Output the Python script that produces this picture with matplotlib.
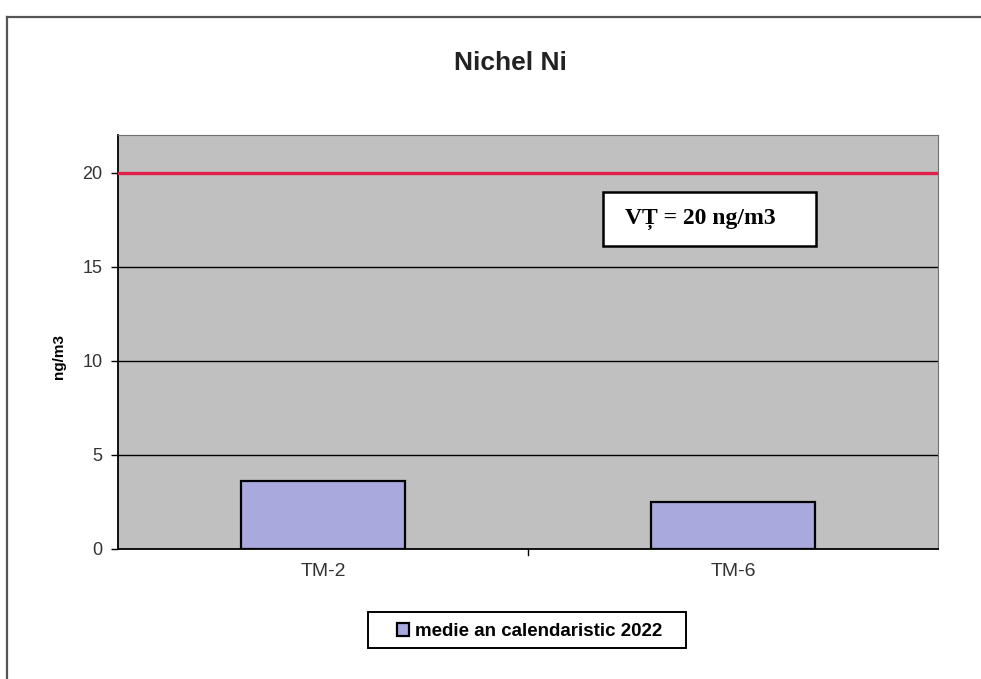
import matplotlib.pyplot as plt
from matplotlib.lines import Line2D
from matplotlib.patches import Rectangle

# data
stations = ['TM-2', 'TM-6']
annual_mean = [3.6, 2.5]
limit_value = 20
series_label = 'medie an calendaristic 2022'
y_ticks = [0, 5, 10, 15, 20]

fig = plt.figure(figsize=(9.81, 6.79), dpi=100)
ax = fig.add_axes([0.1203, 0.1915, 0.8359, 0.6097])
ax.set_facecolor('#c0c0c0')

# horizontal gridlines
for t in y_ticks[1:]:
    ax.axhline(t, color='black', lw=1.0, zorder=1)

x = range(len(stations))
ax.bar(x, annual_mean, width=0.4, color='#a9a9dd', edgecolor='black',
       linewidth=1.6, zorder=3, label=series_label)

# limit value line
ax.axhline(limit_value, color='#e0204a', lw=2.4, zorder=4)

ax.set_xlim(-0.5, len(stations) - 0.5)
ax.set_ylim(0, 22)
ax.set_yticks(y_ticks)
ax.set_xticks(list(x))
ax.set_xticklabels(stations, fontsize=14, family='Liberation Sans')
ax.tick_params(axis='x', length=0, pad=10)
ax.tick_params(axis='y', labelsize=13, length=5, width=1, direction='out', pad=6)
for lbl in ax.get_yticklabels():
    lbl.set_family('Liberation Sans')
    lbl.set_color('#333333')
for lbl in ax.get_xticklabels():
    lbl.set_color('#333333')

# category separator ticks on x axis
for b in [i + 0.5 for i in range(len(stations) - 1)]:
    ax.plot([b, b], [0, -0.3], color='black', lw=1, clip_on=False, zorder=5)

ax.spines['left'].set_color('black')
ax.spines['bottom'].set_color('black')
ax.spines['left'].set_linewidth(1.3)
ax.spines['bottom'].set_linewidth(1.3)
ax.spines['top'].set_color('#707070')
ax.spines['right'].set_color('#707070')

ax.set_ylabel('ng/m3', fontsize=11, fontweight='bold', family='Liberation Sans')
ax.yaxis.set_label_coords(-0.064, 0.465)

fig.text(0.52, 0.907, 'Nichel Ni', ha='center', va='center', fontsize=19,
         fontweight='bold', family='Liberation Sans', color='#222222')

# limit value annotation box
ax.add_patch(Rectangle((0.591, 0.732), 0.26, 0.13, transform=ax.transAxes,
                       facecolor='white', edgecolor='black', lw=1.8, zorder=6))
ax.text(0.618, 0.797, 'VȚ = 20 ng/m3', transform=ax.transAxes, ha='left',
        va='center', fontsize=17, fontweight='bold',
        family=['Liberation Serif', 'DejaVu Serif'], zorder=7)

# legend: frame drawn separately to match the wide box
fig.add_artist(Rectangle((0.375, 0.046), 0.324, 0.053, transform=fig.transFigure,
                         facecolor='white', edgecolor='black', lw=1.4))
leg = fig.legend(loc='center', bbox_to_anchor=(0.540, 0.070),
                 prop={'family': 'Liberation Sans', 'weight': 'bold', 'size': 13.5},
                 frameon=False, handlelength=0.65, handleheight=0.65,
                 handletextpad=0.3, borderpad=0.2, borderaxespad=0)
leg.set_zorder(10)

# outer chart border (top and left only are visible)
fig.add_artist(Line2D([0.007, 1.0], [0.975, 0.975], color='#555555', lw=1.6,
                      transform=fig.transFigure))
fig.add_artist(Line2D([0.007, 0.007], [0.0, 0.975], color='#555555', lw=1.6,
                      transform=fig.transFigure))

fig.savefig('out.png', dpi=100)
